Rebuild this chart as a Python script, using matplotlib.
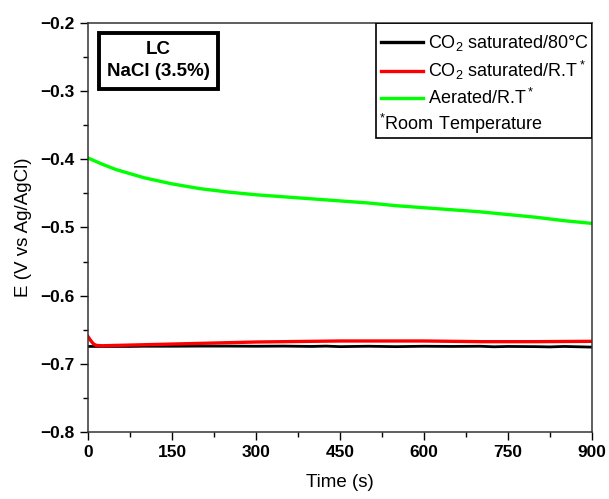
import matplotlib
matplotlib.use("Agg")
import matplotlib.pyplot as plt
from matplotlib.lines import Line2D
from matplotlib.patches import Rectangle
from matplotlib.ticker import MultipleLocator

plt.rcParams['font.family'] = ['Liberation Sans', 'DejaVu Sans']
plt.rcParams['mathtext.default'] = 'regular'

# open circuit potential vs time, three conditions
t_co2_80 = [0, 25, 50, 75, 100, 150, 200, 250, 300, 350, 400, 425, 450, 500, 550, 600,
            650, 700, 725, 750, 800, 825, 850, 875, 900]
e_co2_80 = [-0.6745, -0.6745, -0.6745, -0.6745, -0.6742, -0.6742, -0.6740, -0.6740, -0.6742,
            -0.6740, -0.6745, -0.6740, -0.6748, -0.6742, -0.6748, -0.6742, -0.6745, -0.6742,
            -0.6750, -0.6745, -0.6748, -0.6752, -0.6745, -0.6750, -0.6755]

t_co2_rt = [0, 5, 10, 15, 25, 50, 100, 150, 200, 250, 300, 400, 450, 500, 600, 650, 700,
            800, 900]
e_co2_rt = [-0.660, -0.666, -0.671, -0.673, -0.6735, -0.673, -0.672, -0.671, -0.670, -0.669,
            -0.668, -0.667, -0.6665, -0.6665, -0.6665, -0.667, -0.6675, -0.6675, -0.667]

t_air_rt = [0, 25, 50, 100, 150, 200, 250, 300, 350, 400, 450, 500, 550, 600, 650, 700, 750,
            800, 850, 900]
e_air_rt = [-0.398, -0.407, -0.415, -0.427, -0.436, -0.443, -0.448, -0.452, -0.455, -0.458,
            -0.461, -0.464, -0.468, -0.471, -0.474, -0.477, -0.481, -0.485, -0.490, -0.494]

labels = ['CO$_2$ saturated/80°C', 'CO$_2$ saturated/R.T$^*$', 'Aerated/R.T$^*$']
colors = ['#000000', '#ff0000', '#00ff00']

fig = plt.figure(figsize=(6.09, 4.99), dpi=100)
ax = fig.add_axes([0.1445, 0.1343, 0.8275, 0.8196])

ax.plot(t_co2_80, e_co2_80, color=colors[0], lw=2.0)
ax.plot(t_co2_rt, e_co2_rt, color=colors[1], lw=2.4)
ax.plot(t_air_rt, e_air_rt, color=colors[2], lw=2.4)

ax.set_xlim(0, 900)
ax.set_ylim(-0.8, -0.2)
ax.xaxis.set_major_locator(MultipleLocator(150))
ax.xaxis.set_minor_locator(MultipleLocator(75))
ax.yaxis.set_major_locator(MultipleLocator(0.1))
ax.yaxis.set_minor_locator(MultipleLocator(0.05))
ax.tick_params(which='both', direction='out', top=False, right=False, width=1.0)
ax.tick_params(which='major', length=6, labelsize=12.5)
ax.tick_params(which='minor', length=3.5)
for lab in ax.get_xticklabels() + ax.get_yticklabels():
    lab.set_fontweight('bold')
ax.yaxis.set_major_formatter(matplotlib.ticker.FuncFormatter(lambda v, p: f'{v:.1f}'.replace('-', '\u2212')))
for sp in ax.spines.values():
    sp.set_linewidth(1.1)
    sp.set_color('#333333')

ax.set_xlabel('Time (s)', fontsize=13.5, labelpad=10)
ax.set_ylabel('E (V vs Ag/AgCl)', fontsize=13.5, labelpad=6)

# legend with the footnote line, boxed by hand
handles = [Line2D([], [], color=c, lw=2.4) for c in colors]
ax.legend(handles, labels, loc='upper left', bbox_to_anchor=(0.571, 0.988), frameon=False,
          fontsize=13, handlelength=2.3, handletextpad=0.3, labelspacing=0.33, borderpad=0.3,
          borderaxespad=0)
ax.text(0.577, 0.752, r'$^{*}\mathregular{Room\ Temperature}$', transform=ax.transAxes,
        fontsize=13, va='center', ha='left')
ax.add_patch(Rectangle((0.571, 0.72), 0.429, 0.28, transform=ax.transAxes, fill=False,
                       ec='black', lw=1.2, zorder=5))

ax.text(0.14, 0.908, 'LC\nNaCl (3.5%)', transform=ax.transAxes, fontsize=13.5,
        fontweight='bold', ha='center', va='center', linespacing=1.4,
        bbox=dict(boxstyle='square,pad=0.45', fc='white', ec='black', lw=2.8))

fig.savefig('out.png', dpi=100)
